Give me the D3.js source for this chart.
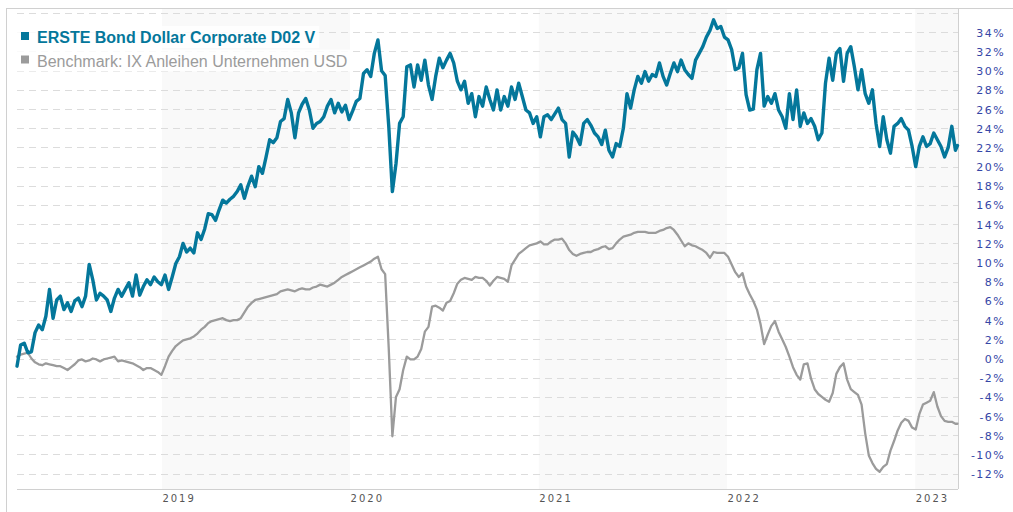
<!DOCTYPE html>
<html>
<head>
<meta charset="utf-8">
<script src="https://cdn.jsdelivr.net/npm/d3@7/dist/d3.min.js"></script>
<style>
  html, body { margin: 0; padding: 0; background: #fff; }
  svg { display: block; }
</style>
</head>
<body>
<svg id="chart" width="1013" height="512"></svg>
<script>
// Weekly performance since launch, in percent
const seriesNames = ["ERSTE Bond Dollar Corporate D02 V", "Benchmark: IX Anleihen Unternehmen USD"];
const startDate = new Date(2018, 2, 26);
const lastDate = new Date(2023, 2, 24);
const domainEnd = new Date(2023, 2, 25);

const fundValues = [
  -0.8, 1.4, 1.6, 0.6, 0.7, 2.7, 3.5, 3.0, 4.4, 7.2,
  4.2, 6.1, 6.5, 5.1, 5.8, 4.9, 6.0, 6.3, 5.4, 6.5,
  9.8, 8.2, 6.1, 6.8, 6.5, 6.1, 4.9, 6.3, 7.2, 6.5,
  7.2, 7.9, 6.5, 8.7, 6.6, 7.5, 8.2, 7.7, 8.5, 8.0,
  7.7, 8.7, 7.2, 8.5, 9.9, 10.6, 12.0, 11.1, 11.5, 11.0,
  13.1, 12.4, 13.5, 15.1, 15.0, 14.4, 15.5, 16.5, 16.2, 16.6,
  16.9, 17.4, 18.1, 16.7, 18.0, 19.0, 17.9, 20.0, 19.3, 21.0,
  22.8, 22.5, 23.0, 24.7, 25.0, 27.0, 25.6, 23.0, 25.6, 26.5,
  27.1, 25.9, 24.0, 24.5, 24.7, 25.2, 26.3, 27.0, 25.6, 26.6,
  25.7, 26.4, 24.9, 25.8, 26.8, 27.1, 29.7, 30.1, 29.4, 31.8,
  33.2, 30.0, 29.5, 24.2, 17.4, 20.3, 24.5, 25.2, 30.4, 30.6,
  28.3, 30.6, 29.0, 31.1, 28.5, 27.0, 29.4, 31.3, 30.3, 31.1,
  31.8, 30.8, 28.9, 28.0, 28.9, 26.6, 27.6, 25.2, 27.3, 26.3,
  28.3, 27.0, 25.9, 28.0, 25.9, 27.3, 26.3, 28.3, 27.0, 28.7,
  27.3, 25.9, 25.6, 24.5, 25.2, 23.1, 25.2, 25.4, 24.9, 25.5,
  26.1, 24.9, 24.5, 21.0, 23.6, 23.1, 22.3, 24.5, 24.9, 24.3,
  23.5, 23.1, 22.3, 23.8, 21.7, 21.0, 22.4, 22.1, 24.0, 27.6,
  26.1, 28.0, 29.4, 28.7, 29.9, 28.9, 29.6, 29.4, 30.8, 29.4,
  28.5, 29.7, 30.8, 29.9, 31.1, 30.1, 29.6, 29.2, 31.1, 31.8,
  32.5, 33.5, 34.2, 35.3, 34.4, 34.6, 33.5, 33.2, 32.2, 30.1,
  30.3, 31.8, 27.5, 25.9, 26.0, 30.1, 31.8, 26.3, 27.3, 26.6,
  27.6, 25.9, 25.2, 24.0, 27.6, 24.9, 28.0, 24.2, 25.6, 24.5,
  25.0, 24.2, 22.8, 23.5, 28.7, 31.3, 29.0, 31.8, 32.3, 28.9,
  31.8, 32.5, 30.4, 28.0, 30.1, 27.6, 26.6, 28.0, 24.5, 22.1,
  25.2, 22.8, 21.4, 24.2, 24.5, 25.0, 24.2, 23.8, 22.1, 20.0,
  22.1, 23.1, 22.1, 22.4, 23.5, 22.8, 22.1, 21.0, 22.0, 24.2,
  21.7, 22.2
];

const benchmarkValues = [
  0.2, 0.4, 0.5, 0.6, 0.0, -0.4, -0.6, -0.7, -0.5, -0.6,
  -0.7, -0.8, -0.8, -1.0, -1.2, -0.9, -0.6, -0.2, -0.1, -0.3,
  -0.2, 0.0, -0.1, -0.3, -0.1, 0.0, 0.1, 0.2, -0.3, -0.2,
  -0.3, -0.4, -0.5, -0.7, -0.9, -1.2, -1.0, -1.0, -1.2, -1.4,
  -1.7, -0.8, 0.2, 0.8, 1.3, 1.6, 1.9, 2.0, 2.1, 2.3,
  2.6, 3.0, 3.3, 3.7, 3.9, 4.0, 4.1, 4.2, 4.0, 3.9,
  4.0, 4.0, 4.2, 4.8, 5.4, 5.8, 6.1, 6.2, 6.3, 6.4,
  6.5, 6.6, 6.7, 7.0, 7.1, 7.2, 7.1, 7.0, 7.2, 7.3,
  7.2, 7.2, 7.4, 7.5, 7.7, 7.6, 7.5, 7.7, 7.9, 8.2,
  8.5, 8.7, 8.9, 9.1, 9.3, 9.5, 9.7, 9.9, 10.1, 10.4,
  10.6, 9.3, 8.8, 1.0, -8.1, -4.0, -3.2, -1.2, 0.2, -0.1,
  -0.1, 0.2, 1.0, 2.8, 3.3, 5.4, 5.5, 5.3, 5.0, 5.8,
  6.0, 6.8, 7.8, 8.2, 8.4, 8.3, 8.2, 8.5, 8.4, 8.4,
  8.1, 7.6, 8.1, 8.5, 8.4, 8.3, 8.0, 9.7, 10.3, 10.9,
  11.2, 11.5, 11.8, 11.9, 12.0, 12.2, 11.9, 11.9, 12.2, 12.4,
  12.4, 12.5, 12.0, 11.3, 10.9, 10.7, 10.9, 11.0, 11.1, 11.1,
  11.3, 11.4, 11.6, 11.7, 11.4, 11.5, 12.0, 12.4, 12.7, 12.8,
  12.9, 13.1, 13.2, 13.2, 13.2, 13.1, 13.1, 13.1, 13.3, 13.4,
  13.6, 13.7, 13.4, 12.9, 12.3, 11.7, 12.0, 11.8, 11.7, 11.5,
  11.3, 11.0, 10.5, 11.1, 11.0, 11.0, 11.0, 10.6, 9.8, 9.0,
  8.5, 8.9, 7.5, 6.7, 6.0, 5.1, 3.6, 1.5, 2.5, 3.4,
  3.9, 2.8, 2.0, 1.2, 0.2, -0.9, -1.7, -2.2, -0.6, -0.5,
  -2.1, -3.2, -3.7, -4.0, -4.3, -4.5, -3.6, -1.6, -0.9, -0.5,
  -2.2, -3.2, -3.5, -3.8, -4.8, -7.8, -10.1, -10.9, -11.5, -11.8,
  -11.3, -11.0, -9.6, -8.6, -7.5, -6.7, -6.3, -6.5, -7.2, -7.4,
  -5.8, -4.8, -4.6, -4.4, -3.5, -5.0, -6.0, -6.5, -6.6, -6.6,
  -6.8, -6.8
];

const yTickValues = d3.range(-12, 35, 2);
const gridValues = d3.range(-12, 37, 2);
const yearLabels = ["2019", "2020", "2021", "2022", "2023"];

const colors = { fund: "#04779b", benchmark: "#9b9b9b" };

// weekly observation dates (Mondays) plus the final valuation day
const dates = d3.timeMonday.range(startDate, new Date(2023, 2, 21));
dates.push(lastDate);

const svg = d3.select("#chart");
const W = 1013, H = 512;
const plot = { left: 17, right: 958, top: 9, bottom: 489 };

const x = d3.scaleTime().domain([startDate, domainEnd]).range([plot.left, plot.right]);
const y = d3.scaleLinear().domain([-13.6, 36.53]).range([plot.bottom, 8]);

// alternating year bands
const years = yearLabels.map(s => new Date(+s, 0, 1));
years.forEach((d, i) => {
  if (i % 2 === 0) {
    const x0 = x(d);
    const x1 = Math.min(x(new Date(d.getFullYear() + 1, 0, 1)), plot.right);
    svg.append("rect")
      .attr("x", x0).attr("y", plot.top)
      .attr("width", x1 - x0).attr("height", plot.bottom - plot.top)
      .attr("fill", "#f9f9f9");
  }
});

// dashed horizontal grid
svg.append("g").selectAll("line").data(gridValues).join("line")
  .attr("x1", plot.left).attr("x2", plot.right)
  .attr("y1", d => Math.round(y(d)) + 0.5).attr("y2", d => Math.round(y(d)) + 0.5)
  .attr("stroke", "#dcdcdc").attr("stroke-width", 1)
  .attr("stroke-dasharray", "7,5");

// frame
const frame = svg.append("g").attr("stroke", "#d0d0d0").attr("stroke-width", 1);
frame.append("line").attr("x1", 6).attr("x2", W).attr("y1", 8.5).attr("y2", 8.5);
frame.append("line").attr("x1", 6.5).attr("x2", 6.5).attr("y1", 8).attr("y2", H);
frame.append("line").attr("x1", plot.right + 0.5).attr("x2", plot.right + 0.5).attr("y1", 8).attr("y2", plot.bottom);
frame.append("line").attr("x1", plot.left).attr("x2", plot.right).attr("y1", plot.bottom + 0.5).attr("y2", plot.bottom + 0.5);

// lines
const line = d3.line().x((d, i) => x(dates[i])).y(d => y(d)).curve(d3.curveLinear);

svg.append("path").datum(benchmarkValues)
  .attr("d", line).attr("fill", "none")
  .attr("stroke", colors.benchmark).attr("stroke-width", 2.3)
  .attr("stroke-linejoin", "round").attr("stroke-linecap", "round");

svg.append("path").datum(fundValues)
  .attr("d", line).attr("fill", "none")
  .attr("stroke", colors.fund).attr("stroke-width", 3.4)
  .attr("stroke-linejoin", "round").attr("stroke-linecap", "round");

// right value axis
const yAxis = d3.axisRight(y).tickValues(yTickValues).tickSize(0).tickFormat(d => d + "%");
const gy = svg.append("g").attr("transform", `translate(${plot.right},0)`).call(yAxis);
gy.select(".domain").remove();
gy.selectAll("text")
  .attr("x", 47).attr("dy", "0.36em")
  .attr("text-anchor", "end")
  .attr("fill", "#3546a6")
  .style("font-family", "'DejaVu Sans', Verdana, sans-serif")
  .style("font-size", "11px")
  .style("letter-spacing", "1.4px");

// year axis
const xAxis = d3.axisBottom(x).tickValues(years).tickSize(0).tickFormat((d, i) => yearLabels[i]);
const gx = svg.append("g").attr("transform", `translate(0,${plot.bottom})`).call(xAxis);
gx.select(".domain").remove();
gx.selectAll("text")
  .attr("y", 13).attr("dy", 0)
  .attr("text-anchor", "start")
  .attr("fill", "#555")
  .style("font-family", "'DejaVu Sans', Verdana, sans-serif")
  .style("font-size", "10px")
  .style("letter-spacing", "2px");

// legend
const legend = svg.append("g").style("font-family", "'Liberation Sans', Arial, sans-serif").style("font-size", "16px");
const legendItems = [
  { name: seriesNames[0], color: colors.fund, weight: "bold", y: 43 },
  { name: seriesNames[1], color: colors.benchmark, weight: "normal", y: 66.5 }
];
legendItems.forEach(it => {
  const t = legend.append("text")
    .attr("x", 37).attr("y", it.y)
    .attr("fill", it.color).style("font-weight", it.weight)
    .text(it.name);
  const w = t.node().getComputedTextLength();
  legend.insert("rect", "text")
    .attr("x", 17).attr("y", it.y - 17).attr("width", w + 24).attr("height", 22)
    .attr("fill", "#fff").attr("fill-opacity", 0.85);
  legend.append("rect")
    .attr("x", 21).attr("y", it.y - 11).attr("width", 8).attr("height", 8)
    .attr("fill", it.color);
});
</script>
</body>
</html>
